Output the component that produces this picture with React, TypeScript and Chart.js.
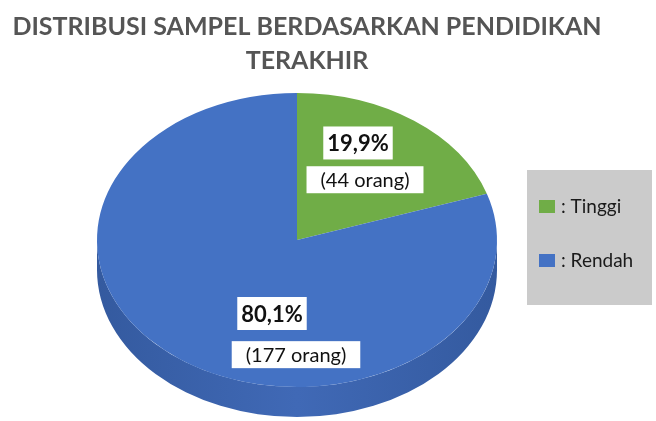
import React, { useEffect, useRef } from "react";
import { Chart, registerables } from "chart.js";

Chart.register(...registerables);

// ---- data ----
const TITLE_LINES = ["DISTRIBUSI SAMPEL BERDASARKAN PENDIDIKAN", "TERAKHIR"];
const CATEGORIES = ["Tinggi", "Rendah"];
const COUNTS = [44, 177];
const COLORS = ["#70AD47", "#4472C4"];
const SIDE_DARK = ["#578a36", "#345a9f"];
const SIDE_MID = ["#67a040", "#4069b6"];

// label positions as fractions of the ellipse radii (x, y) relative to pie centre
const PCT_POS = [
  [0.305, -0.66],
  [-0.125, 0.5],
];
const CNT_POS = [
  [0.34, -0.41],
  [-0.005, 0.78],
];

const DEPTH = 30;

const total = COUNTS.reduce((a, b) => a + b, 0);
const PCT_LABELS = COUNTS.map((v) => ((v / total) * 100).toFixed(1).replace(".", ",") + "%");
const CNT_LABELS = COUNTS.map((v) => `(${v} orang)`);

const FONT = "Lato, 'Open Sans', sans-serif";

const pie3d = {
  id: "pie3d",
  beforeDatasetsDraw(chart: any) {
    const meta = chart.getDatasetMeta(0);
    const a = chart.chartArea;
    const cx = (a.left + a.right) / 2;
    const cy = (a.top + a.bottom) / 2;
    const sx = (a.right - a.left) / (a.bottom - a.top);
    const ctx = chart.ctx;
    ctx.save();
    ctx.translate(cx, cy);
    ctx.scale(sx, 1);
    ctx.translate(-cx, -cy);
    // side (depth)
    meta.data.forEach((arc: any, i: number) => {
      const r = arc.outerRadius;
      const grad = ctx.createLinearGradient(arc.x - r, 0, arc.x + r, 0);
      grad.addColorStop(0, SIDE_DARK[i]);
      grad.addColorStop(0.5, SIDE_MID[i]);
      grad.addColorStop(1, SIDE_DARK[i]);
      ctx.fillStyle = grad;
      for (let k = -1; k <= 1; k++) {
        const s = Math.max(arc.startAngle, 2 * Math.PI * k);
        const e = Math.min(arc.endAngle, 2 * Math.PI * k + Math.PI);
        if (e > s) {
          ctx.beginPath();
          ctx.arc(arc.x, arc.y, r, s, e);
          ctx.arc(arc.x, arc.y + DEPTH, r, e, s, true);
          ctx.closePath();
          ctx.fill();
        }
      }
    });
  },
  afterDatasetsDraw(chart: any) {
    const ctx = chart.ctx;
    ctx.restore();
    const meta = chart.getDatasetMeta(0);
    const a = chart.chartArea;
    const sx = (a.right - a.left) / (a.bottom - a.top);
    meta.data.forEach((arc: any, i: number) => {
      const rx = arc.outerRadius * sx;
      const ry = arc.outerRadius;
      const drawBox = (text: string, font: string, px: number, py: number, padX: number, h: number) => {
        ctx.font = font;
        const w = ctx.measureText(text).width + padX * 2;
        ctx.fillStyle = "#ffffff";
        ctx.fillRect(px - w / 2, py - h / 2, w, h);
        ctx.fillStyle = "#111111";
        ctx.textAlign = "center";
        ctx.textBaseline = "middle";
        ctx.fillText(text, px, py + 1);
      };
      drawBox(PCT_LABELS[i], `bold 22px ${FONT}`, arc.x + PCT_POS[i][0] * rx, arc.y + PCT_POS[i][1] * ry, 4, 33);
      drawBox(CNT_LABELS[i], `20px ${FONT}`, arc.x + CNT_POS[i][0] * rx, arc.y + CNT_POS[i][1] * ry, 14, 27);
    });
  },
  afterDraw(chart: any) {
    const ctx = chart.ctx;
    ctx.save();
    // title
    ctx.font = `bold 25px ${FONT}`;
    ctx.fillStyle = "#555555";
    ctx.textAlign = "center";
    ctx.textBaseline = "middle";
    TITLE_LINES.forEach((t, i) => ctx.fillText(t, 307, 27 + i * 34));
    // legend box
    ctx.fillStyle = "#cbcbcb";
    ctx.fillRect(527, 170, 125, 135);
    const colors = chart.data.datasets[0].backgroundColor;
    chart.data.labels.forEach((lab: string, i: number) => {
      const y = 207 + i * 54;
      ctx.fillStyle = colors[i];
      ctx.fillRect(539, y - 7, 16, 13);
      ctx.fillStyle = "#1a1a1a";
      ctx.font = `19px ${FONT}`;
      ctx.textAlign = "left";
      ctx.textBaseline = "middle";
      ctx.fillText(": " + lab, 561, y);
    });
    ctx.restore();
  },
};

export default function App() {
  const ref = useRef<HTMLCanvasElement>(null);
  useEffect(() => {
    document.body.style.margin = "0";
    const chart = new Chart(ref.current!, {
      type: "pie",
      data: {
        labels: CATEGORIES,
        datasets: [
          {
            data: COUNTS,
            backgroundColor: COLORS,
            borderWidth: 0,
            clip: false as any,
          },
        ],
      },
      options: {
        responsive: false,
        animation: false,
        events: [],
        layout: { padding: { left: 97, right: 159, top: 93, bottom: 34 } },
        plugins: {
          legend: { display: false },
          tooltip: { enabled: false },
          title: { display: false },
        },
      },
      plugins: [pie3d],
    });
    return () => chart.destroy();
  }, []);
  return (
    <div style={{ width: 656, height: 421, background: "#ffffff" }}>
      <canvas ref={ref} width={656} height={421} />
    </div>
  );
}
